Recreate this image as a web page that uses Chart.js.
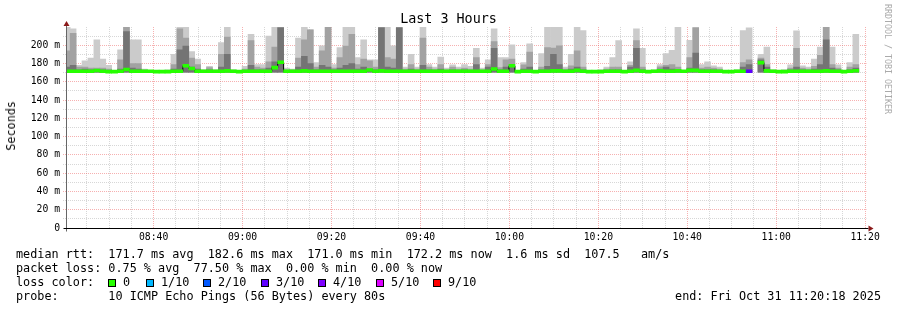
<!DOCTYPE html>
<html>
<head>
<meta charset="utf-8">
<script src="https://cdn.jsdelivr.net/npm/chart.js@4.4.1/dist/chart.umd.min.js"></script>
<style>
  body { margin: 0; background: #fff; }
  #wrap { position: relative; width: 897px; height: 310px; font-family: "DejaVu Sans Mono", monospace; color: #000; overflow: hidden; }
  #chart { position: absolute; left: 0; top: 0; }
  .txt { position: absolute; white-space: pre; font-size: 11.8px; line-height: 14px; }
  .box { position: absolute; width: 8px; height: 8px; box-sizing: border-box; border: 1px solid #000; top: 279px; }
</style>
</head>
<body>
<div id="wrap">
  <canvas id="chart" width="897" height="310"></canvas>
  <div class="txt" style="left:0;width:897px;text-align:center;top:11px;font-size:13.4px;line-height:16px">Last 3 Hours</div>
  <div class="txt" style="left:4px;top:101px;writing-mode:vertical-rl;transform:rotate(180deg)">Seconds</div>
  <div class="txt" style="left:883px;top:4px;font-size:8.3px;line-height:10px;color:#aaa;writing-mode:vertical-rl">RRDTOOL / TOBI OETIKER</div>
  <div class="txt" style="left:16px;top:247px">median rtt:  171.7 ms avg  182.6 ms max  171.0 ms min  172.2 ms now  1.6 ms sd  107.5   am/s</div>
  <div class="txt" style="left:16px;top:261px">packet loss: 0.75 % avg  77.50 % max  0.00 % min  0.00 % now</div>
  <div class="txt" style="left:16px;top:275px">loss color:</div>
  <div id="lossLegend"></div>
  <div class="txt" style="left:16px;top:289px">probe:       10 ICMP Echo Pings (56 Bytes) every 80s</div>
  <div class="txt" style="right:16px;top:289px">end: Fri Oct 31 11:20:18 2025</div>
</div>
<script>
// time range of the graph and the 80 s sample columns
const rangeStart = "08:20:18";
const rangeEnd = "11:20:18";
const firstColumnEnd = "08:21:14";
const stepSeconds = 80;

const timeTickLabels = ["08:40", "09:00", "09:20", "09:40", "10:00", "10:20", "10:40", "11:00", "11:20"];
const yTickValues = [0, 20, 40, 60, 80, 100, 120, 140, 160, 180, 200];
const yTickLabels = ["0", "20 m", "40 m", "60 m", "80 m", "100 m", "120 m", "140 m", "160 m", "180 m", "200 m"];

// smoke (ms): top of lightest, middle and darkest shades per column
const smokeMin = 170.5;
const smokeMax = [
  221, 218, 178, 183, 186, 206, 185, 178, 172, 195,
  221, 206, 206, 174, 172.5, 171.5, 172.5, 173, 190, 221,
  221, 193, 185, 173.5, 177, 173.5, 203, 221, 173.5, 172,
  177, 212, 179, 179, 210, 221, 221, 175, 174, 208,
  221, 217, 181, 199.5, 221, 179, 197.5, 221, 221, 186.5,
  206, 184, 184, 221, 221, 199.5, 221, 176, 190, 176,
  221, 179, 176, 187, 175, 178.5, 176, 179, 177, 196.7,
  175, 184, 218, 186.5, 186.5, 200.6, 172, 181, 201.5, 172,
  191, 221, 221, 221, 176, 190, 221, 216, 172, 172.5,
  173.5, 176, 186.5, 205, 172, 182, 218, 196.7, 172, 173,
  179, 191, 194.5, 221, 172.5, 205.5, 221, 179, 182, 177.6,
  176, 172, 172, 173.5, 216, 219, null, 190, 198, 173.5,
  172, 173.5, 178.6, 215.7, 177.6, 176, 185, 198, 221, 198,
  178.6, 172.5, 181, 212
];
const smokeHigh = [
  194, 213, 176, 176, 175, 175, 175, 174, 171.5, 184,
  221, 180, 180, 173, 172, 171, 172, 172, 179, 218,
  208, 186, 179, 172.5, 175.5, 172.5, 190, 209, 172.5, 171.5,
  174, 205, 176, 175, 182, 198, 221, 173, 173, 186,
  206, 217, 176, 194, 221, 175, 186.5, 199, 212, 179,
  185, 183, 176, 221, 186.5, 185, 221, 174, 179, 174,
  208, 176, 174, 179, 173, 176, 174, 175, 174, 186.5,
  173, 179, 204, 175.5, 184, 185, 171.5, 178.5, 192.5, 171.5,
  176, 197.5, 197, 199.5, 174, 177.5, 194, 176, 171.5, 172,
  172.5, 174, 176, 176, 171.5, 178, 205, 176, 171.5, 172.5,
  176.5, 178, 179, 176, 172, 186.5, 219, 175, 176, 175,
  174, 171.5, 171.5, 172.5, 181, 184, null, 186, 179, 172.5,
  171.5, 172.5, 175, 196.7, 175, 174, 177, 189, 221, 179,
  175, 172, 176, 179
];
const smokeMid = [
  176, 178, 173, 174, 173, 173, 173, 172, 171, 174,
  215, 175, 174, 172, 171.5, 171, 171.5, 171.5, 174, 195,
  199, 176, 174, 172, 173, 172, 176, 190, 172, 171,
  172.5, 178, 173, 173, 175, 182, 219, 172, 172, 176,
  188, 180, 173, 178, 176, 173, 175, 178, 180, 174,
  176, 174, 173, 219, 176, 175, 219, 172.5, 174, 172.5,
  178, 173, 172.5, 174, 172, 173, 172.5, 173, 172.5, 179,
  172, 176, 196.7, 173, 176, 177, 171, 174, 176, 171,
  173, 177, 190, 179, 172.5, 174, 176, 173, 171, 171.5,
  172, 172.5, 173, 173, 171, 176, 196.7, 173, 171, 172,
  174, 176, 174, 173, 171.5, 175, 191.5, 173, 173, 173,
  172.5, 171, 171, 172, 176, 179, null, 184, 176, 172,
  171, 172, 173, 176, 173, 172.5, 174, 179, 206, 175,
  173, 171.5, 173, 175
];
const medianRtt = [
  171.5, 171.5, 171.5, 171.5, 171.5, 172.3, 171.5, 171.2, 171.2, 171.5,
  173.5, 171.5, 171.5, 171.5, 171.5, 171.2, 171.2, 171.2, 171.5, 171.5,
  177.5, 174.5, 171.5, 171.5, 171.5, 171.5, 171.5, 172, 171.5, 171.2,
  171.5, 171.5, 171.5, 171.5, 171.5, 175.5, 181.5, 171.5, 171.5, 171.5,
  172, 171.5, 171.5, 171.5, 171.5, 171.5, 171.5, 171.5, 171.5, 171.5,
  171.5, 173, 171.5, 172, 171.5, 171.5, 171.5, 171.5, 171.5, 171.5,
  171.5, 171.5, 171.5, 171.5, 171.5, 171.5, 171.5, 171.5, 171.5, 171.5,
  171.5, 171.5, 174, 171.5, 171.5, 177.5, 171.2, 171.5, 171.5, 171.2,
  171.5, 171.5, 172, 172, 171.5, 171.5, 172.5, 171.5, 171.2, 171.2,
  171.2, 171.5, 171.5, 171.5, 171.2, 171.5, 172.5, 171.5, 171.2, 171.5,
  172, 171.5, 171.5, 172, 171.5, 172.5, 172.5, 171.5, 171.5, 171.5,
  171.5, 171.2, 171.2, 171.5, 171.5, 171.5, null, 181, 172, 171.5,
  171.2, 171.2, 171.5, 171.5, 171.5, 171.5, 171.5, 171.5, 172, 171.5,
  171.5, 171.2, 171.5, 172.2
];
const lostPings = [
  0, 0, 0, 0, 0, 0, 0, 0, 0, 0,
  0, 0, 0, 0, 0, 0, 0, 0, 0, 0,
  0, 0, 0, 0, 0, 0, 0, 0, 0, 0,
  0, 0, 0, 0, 0, 0, 0, 0, 0, 0,
  0, 0, 0, 0, 0, 0, 0, 0, 0, 0,
  0, 0, 0, 0, 0, 0, 0, 0, 0, 0,
  0, 0, 0, 0, 0, 0, 0, 0, 0, 0,
  0, 0, 0, 0, 0, 0, 0, 0, 0, 0,
  0, 0, 0, 0, 0, 0, 0, 0, 0, 0,
  0, 0, 0, 0, 0, 0, 0, 0, 0, 0,
  0, 0, 0, 0, 0, 0, 0, 0, 0, 0,
  0, 0, 0, 0, 0, 3, 10, 0, 0, 0,
  0, 0, 0, 0, 0, 0, 0, 0, 0, 0,
  0, 0, 0, 0
];

const lossLegend = ["0", "1/10", "2/10", "3/10", "4/10", "5/10", "9/10"];
const lossLevels = [0, 1, 2, 3, 4, 5, 9];
const lossColors = ["#26ff00", "#00b8ff", "#0059ff", "#5e00ff", "#7e00ff", "#dd00ff", "#ff0000"];

const toSec = (s) => {
  const [h, m, sec] = s.split(":").map(Number);
  return h * 3600 + m * 60 + (sec || 0);
};

const columnTimes = smokeMax.map((_, i) => toSec(firstColumnEnd) - stepSeconds / 2 + i * stepSeconds);

const lossColor = (n) => {
  let c = lossColors[0];
  lossLevels.forEach((lv, k) => { if (n >= lv) c = lossColors[k]; });
  return c;
};

const band = (arr) => arr.map((v, i) => ({ x: columnTimes[i], y: v == null ? null : [smokeMin, v] }));

// legend boxes for the loss colours
const legendBox = [108, 146, 203, 261, 318, 376, 433];
const legendEl = document.getElementById("lossLegend");
lossLegend.forEach((label, k) => {
  const b = document.createElement("div");
  b.className = "box";
  b.style.left = legendBox[k] + "px";
  b.style.background = lossColors[k];
  legendEl.appendChild(b);
  const t = document.createElement("div");
  t.className = "txt";
  t.style.left = (legendBox[k] + 15) + "px";
  t.style.top = "275px";
  t.textContent = label;
  legendEl.appendChild(t);
});

const xStart = toSec(rangeStart);
const xEnd = toSec(rangeEnd);
const xGrid = [];
for (let t = Math.ceil(xStart / 300) * 300; t <= xEnd; t += 300) xGrid.push(t);
const xLabelSecs = timeTickLabels.map(toSec);
const yGrid = [];
for (let v = 0; v <= 210; v += 10) yGrid.push(v);

const majorRed = "rgba(235, 80, 80, 0.45)";
const minorGray = "rgba(150, 150, 150, 0.38)";
const clear = "rgba(0,0,0,0)";

const axisArrows = {
  id: "axisArrows",
  afterDatasetsDraw(chart) {
    const { ctx, chartArea: a } = chart;
    const x0 = Math.round(a.left) + 0.5;
    const y0 = Math.round(a.bottom) + 0.5;
    ctx.save();
    ctx.lineWidth = 1;
    ctx.strokeStyle = "#666";
    ctx.beginPath(); ctx.moveTo(x0, a.top - 1); ctx.lineTo(x0, y0 + 3); ctx.stroke();
    ctx.strokeStyle = "#000";
    ctx.beginPath(); ctx.moveTo(x0 - 3, y0); ctx.lineTo(a.right + 2, y0); ctx.stroke();
    ctx.fillStyle = "#8b1a1a";
    ctx.beginPath(); ctx.moveTo(x0 - 3, a.top - 1); ctx.lineTo(x0 + 3, a.top - 1); ctx.lineTo(x0, a.top - 6); ctx.closePath(); ctx.fill();
    ctx.beginPath(); ctx.moveTo(a.right + 2, y0 - 3); ctx.lineTo(a.right + 2, y0 + 3); ctx.lineTo(a.right + 7, y0); ctx.closePath(); ctx.fill();
    ctx.restore();
  }
};

Chart.defaults.font.family = "'DejaVu Sans Mono', monospace";

new Chart(document.getElementById("chart"), {
  type: "bar",
  data: {
    datasets: [
      {
        type: "bar",
        data: medianRtt.map((m, i) => ({ x: columnTimes[i], y: m == null ? null : [m - 1.6, m + 1.6] })),
        backgroundColor: lostPings.map(lossColor),
        order: 1
      },
      {
        type: "line",
        data: medianRtt.map((m, i) => ({ x: columnTimes[i], y: m })),
        borderColor: "#000",
        borderWidth: 1,
        stepped: "middle",
        pointRadius: 0,
        spanGaps: false,
        order: 2
      },
      { data: band(smokeMid), backgroundColor: "#747474", order: 3 },
      { data: band(smokeHigh), backgroundColor: "#a2a2a2", order: 4 },
      { data: band(smokeMax), backgroundColor: "#cbcbcb", order: 5 }
    ]
  },
  options: {
    responsive: false,
    animation: false,
    events: [],
    layout: { padding: { left: 0, right: 30.5, top: 27, bottom: 60 } },
    datasets: {
      bar: { barPercentage: 1, categoryPercentage: 1, grouped: false, borderWidth: 0 }
    },
    plugins: { legend: { display: false }, tooltip: { enabled: false } },
    scales: {
      x: {
        type: "linear",
        offset: false,
        min: xStart,
        max: xEnd,
        afterBuildTicks: (ax) => { ax.ticks = xGrid.map((v) => ({ value: v })); },
        afterFit: (s) => { s.height = 22; s.paddingLeft = 0; s.paddingRight = 0; },
        ticks: {
          autoSkip: false,
          maxRotation: 0,
          padding: 2,
          color: "#000",
          font: { size: 9.75 },
          callback: (v) => {
            const k = xLabelSecs.indexOf(v);
            return k < 0 ? "" : timeTickLabels[k];
          }
        },
        grid: {
          offset: false,
          color: (c) => (c.tick ? (xLabelSecs.includes(c.tick.value) ? majorRed : minorGray) : clear),
          lineWidth: 1,
          borderDash: [1, 1],
          tickLength: 2,
          tickColor: clear
        },
        border: { display: false, dash: [1, 1], color: clear }
      },
      y: {
        min: 0,
        max: 220,
        afterBuildTicks: (ax) => { ax.ticks = yGrid.map((v) => ({ value: v })); },
        afterFit: (s) => { s.width = 66; s.paddingTop = 0; s.paddingBottom = 0; },
        ticks: {
          autoSkip: false,
          padding: 3,
          color: "#000",
          font: { size: 9.75 },
          callback: (v) => {
            const k = yTickValues.indexOf(v);
            return k < 0 ? "" : yTickLabels[k];
          }
        },
        grid: {
          color: (c) => (!c.tick || c.tick.value === 0 ? clear : (c.tick.value % 20 === 0 ? majorRed : minorGray)),
          lineWidth: 1,
          borderDash: [1, 1],
          tickLength: 3,
          tickBorderDash: [1, 1]
        },
        border: { display: false, dash: [1, 1], color: clear }
      }
    }
  },
  plugins: [axisArrows]
});
</script>
</body>
</html>
